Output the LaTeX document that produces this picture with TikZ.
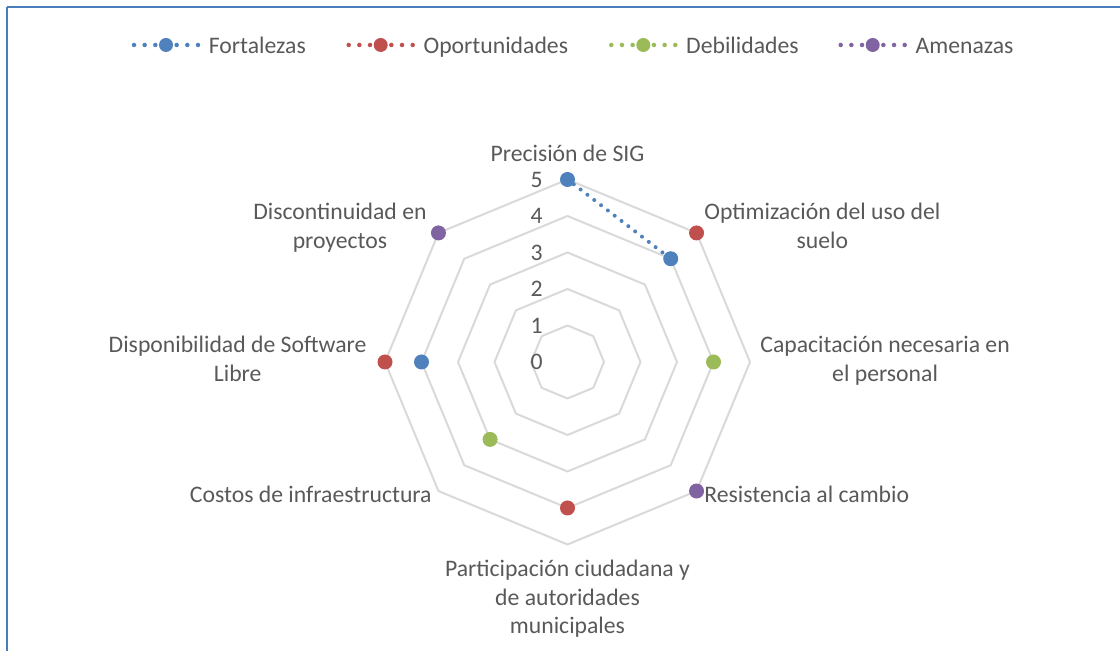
\documentclass[tikz,border=0pt]{standalone}
\usepackage{fontspec}
\setmainfont{Carlito}
\usetikzlibrary{positioning}

\definecolor{fortblue}{HTML}{4F81BD}
\definecolor{oporred}{HTML}{C0504D}
\definecolor{debgreen}{HTML}{9BBB59}
\definecolor{amenpurple}{HTML}{8064A2}
\definecolor{gridgray}{HTML}{D9D9D9}
\definecolor{txtgray}{HTML}{595959}
\definecolor{frameblue}{HTML}{4A7EBB}

\def\ringgap{36.5}

\tikzset{
  lbl/.style={font=\fontsize{11.85}{14.25}\selectfont, text=txtgray, inner sep=0pt},
  ring/.style={gridgray, line width=1pt, line join=round},
  dot/.style={circle, inner sep=0pt, minimum size=7.5pt},
  serie/.style={line width=2pt, line cap=round, dash pattern=on 0pt off 4.3pt},
}

\NewDocumentCommand{\legitem}{mmmm}{%
\begin{scope}[shift={(#1,606)}]%
\draw[#2, line width=2.25pt, line cap=round, dash pattern=on 0pt off 5.333pt] (-32,0) -- (32,0);
\node[dot, fill=#2, minimum size=7pt] (leg#3) at (0,0) {};
\node[lbl, anchor=base west] (leg#3txt) at (42.5,-8.5) {#4};
\end{scope}%
}

\begin{document}
\begin{tikzpicture}[x=0.5pt, y=0.5pt]
    \useasboundingbox (0,0) rectangle (1120,651);
    \draw[frameblue, line width=1pt] (7,0) -- (7,644);
    \draw[frameblue, line width=0.75pt] (6.5,644) -- (1120,644);

    \legitem{166}{fortblue}{F}{Fortalezas}
    \legitem{380.7}{oporred}{O}{Oportunidades}
    \legitem{643.3}{debgreen}{D}{Debilidades}
    \legitem{872.7}{amenpurple}{A}{Amenazas}

    \begin{scope}[shift={(567.5,289)}]
        \foreach \k in {1,...,5}
            \draw[ring] (0:\k*\ringgap) \foreach \a in {45,90,...,315} {-- (\a:\k*\ringgap)} -- cycle;
        \foreach \k in {0,...,5}
            \node[lbl, anchor=base east] (tick\k) at (-24.5,\k*\ringgap-8) {\k};

        % multi-line labels: base is the last line
        \node[lbl, anchor=base] (prec) at (0,200) {Precisión de SIG};
        \node[lbl, anchor=base west, align=center] (opt) at (136.5,113.5) {Optimización del uso del\\suelo};
        \node[lbl, anchor=base west, align=center] (cap) at (192.5,-19.5) {Capacitación necesaria en\\el personal};
        \node[lbl, anchor=base west] (res) at (136.5,-141) {Resistencia al cambio};
        \node[lbl, anchor=base, align=center] (part) at (0,-272) {Participación ciudadana y\\de autoridades\\municipales};
        \node[lbl, anchor=base east] (cost) at (-135.5,-141) {Costos de infraestructura};
        \node[lbl, anchor=base east, align=center] (disp) at (-200.5,-19.5) {Disponibilidad de Software\\Libre};
        \node[lbl, anchor=base east, align=center] (disc) at (-140.5,113.5) {Discontinuidad en\\proyectos};

        \node[dot, fill=fortblue] (fPrec) at (90:5*\ringgap) {};
        \node[dot, fill=fortblue] (fOpt) at (45:4*\ringgap) {};
        \node[dot, fill=fortblue] (fDisp) at (180:4*\ringgap) {};
        \node[dot, fill=oporred] (oOpt) at (45:5*\ringgap) {};
        \node[dot, fill=oporred] (oPart) at (-90:4*\ringgap) {};
        \node[dot, fill=oporred] (oDisp) at (180:5*\ringgap) {};
        \node[dot, fill=debgreen] (dCap) at (0:4*\ringgap) {};
        \node[dot, fill=debgreen] (dCost) at (-135:3*\ringgap) {};
        \node[dot, fill=amenpurple] (aRes) at (-45:5*\ringgap) {};
        \node[dot, fill=amenpurple] (aDisc) at (135:5*\ringgap) {};

        \draw[serie, fortblue] (fPrec) -- (fOpt);
    \end{scope}
\end{tikzpicture}
\end{document}
